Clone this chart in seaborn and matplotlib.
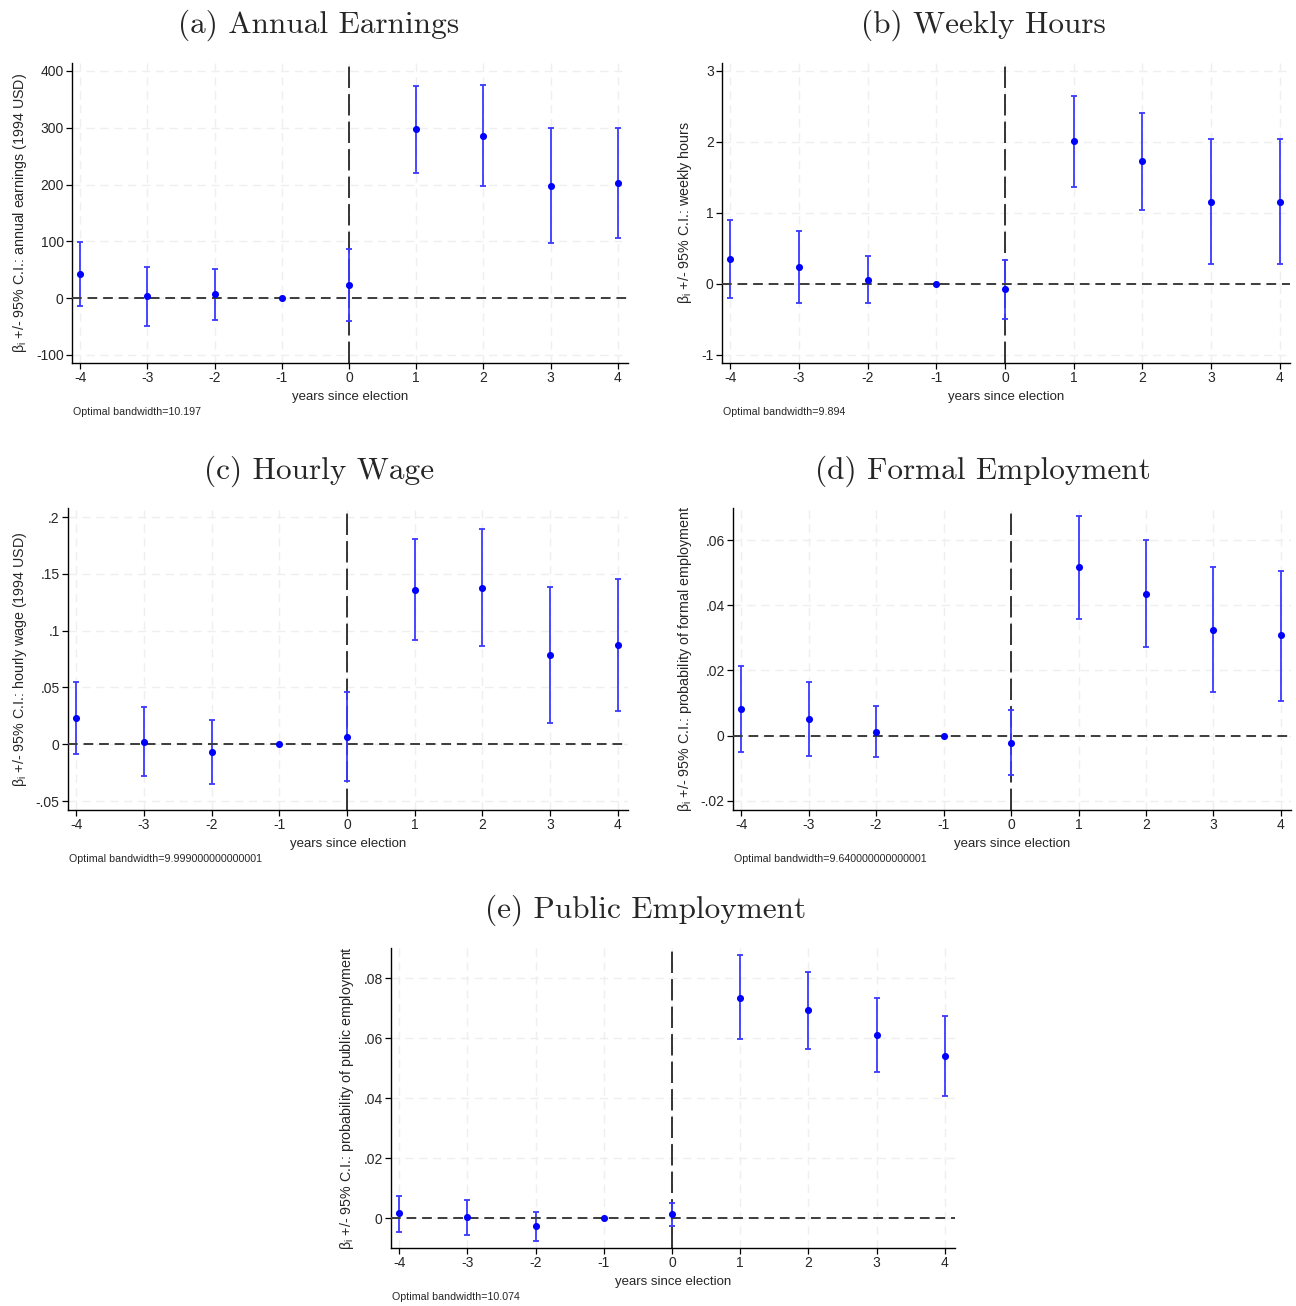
import numpy as np
import pandas as pd
import matplotlib
matplotlib.use("Agg")
import matplotlib.pyplot as plt
import seaborn as sns

# Event-study coefficients and 95% confidence bounds (reference year -1 has no interval)
years = [-4, -3, -2, -1, 0, 1, 2, 3, 4]

earn_beta = [43.4, 3.0, 7.0, 0.0, 23.0, 297.0, 286.0, 198.0, 202.5]
earn_lo = [-13.0, -49.0, -37.6, np.nan, -40.5, 220.0, 197.0, 97.0, 106.0]
earn_hi = [99.0, 55.0, 52.0, np.nan, 87.0, 374.0, 375.0, 299.0, 299.0]

hours_beta = [0.352, 0.244, 0.061, 0.0, -0.075, 2.009, 1.728, 1.155, 1.160]
hours_lo = [-0.197, -0.263, -0.268, np.nan, -0.493, 1.371, 1.047, 0.277, 0.277]
hours_hi = [0.897, 0.751, 0.399, np.nan, 0.343, 2.648, 2.413, 2.038, 2.047]

wage_beta = [0.0228, 0.0023, -0.0070, 0.0, 0.0067, 0.1361, 0.1376, 0.0785, 0.0872]
wage_lo = [-0.0085, -0.0281, -0.0348, np.nan, -0.0328, 0.0919, 0.0864, 0.0184, 0.0296]
wage_hi = [0.0544, 0.0325, 0.0211, np.nan, 0.0463, 0.1806, 0.1891, 0.1385, 0.1452]

formal_beta = [0.0082, 0.0051, 0.0012, 0.0, -0.0023, 0.0516, 0.0436, 0.0325, 0.0308]
formal_lo = [-0.0049, -0.0063, -0.0064, np.nan, -0.0121, 0.0357, 0.0273, 0.0134, 0.0108]
formal_hi = [0.0214, 0.0166, 0.0090, np.nan, 0.0079, 0.0674, 0.0599, 0.0518, 0.0506]

public_beta = [0.00156, 0.00022, -0.0027, 0.0, 0.0012, 0.0735, 0.0692, 0.0611, 0.0541]
public_lo = [-0.00456, -0.0057, -0.0075, np.nan, -0.0027, 0.0598, 0.0565, 0.0487, 0.0408]
public_hi = [0.00745, 0.0061, 0.0020, np.nan, 0.0051, 0.0876, 0.0821, 0.0734, 0.0674]

titles = ["(a) Annual Earnings", "(b) Weekly Hours", "(c) Hourly Wage",
          "(d) Formal Employment", "(e) Public Employment"]
ylabels = ["annual earnings (1994 USD)", "weekly hours", "hourly wage (1994 USD)",
           "probability of formal employment", "probability of public employment"]
bandwidths = ["10.197", "9.894", "9.999000000000001", "9.640000000000001", "10.074"]

yticks = [
    ([-100, 0, 100, 200, 300, 400], ["-100", "0", "100", "200", "300", "400"]),
    ([-1, 0, 1, 2, 3], ["-1", "0", "1", "2", "3"]),
    ([-0.05, 0, 0.05, 0.1, 0.15, 0.2], ["-.05", "0", ".05", ".1", ".15", ".2"]),
    ([-0.02, 0, 0.02, 0.04, 0.06], ["-.02", "0", ".02", ".04", ".06"]),
    ([0, 0.02, 0.04, 0.06, 0.08], ["0", ".02", ".04", ".06", ".08"]),
]

series = [
    (earn_beta, earn_lo, earn_hi),
    (hours_beta, hours_lo, hours_hi),
    (wage_beta, wage_lo, wage_hi),
    (formal_beta, formal_lo, formal_hi),
    (public_beta, public_lo, public_hi),
]

ylims = [(-114, 414), (-1.113, 3.113), (-0.0579, 0.2079), (-0.02276, 0.0698), (-0.01, 0.09)]

# axes rectangles [left, bottom, width, height] in figure fractions
rects = [
    [0.0556, 0.7221, 0.4290, 0.2297],
    [0.5571, 0.7221, 0.4383, 0.2297],
    [0.0525, 0.3798, 0.4321, 0.2312],
    [0.5656, 0.3798, 0.4306, 0.2312],
    [0.3017, 0.0444, 0.4352, 0.2297],
]
title_pos = [(319, 25), (983, 25), (319, 471), (983, 471), (646, 910)]

sns.set_style("white")
plt.rcParams["font.family"] = ["Liberation Sans", "DejaVu Sans"]
plt.rcParams["mathtext.fontset"] = "custom"
plt.rcParams["mathtext.rm"] = "Liberation Sans"
plt.rcParams["mathtext.it"] = "Liberation Sans"

W, H = 1296, 1306
fig = plt.figure(figsize=(W / 100, H / 100), dpi=100)

blue = "#0000ff"
ci_blue = "#3a3aff"

for i in range(5):
    beta, lo, hi = series[i]
    df = pd.DataFrame({"year": years, "beta": beta, "lo": lo, "hi": hi})
    ax = fig.add_axes(rects[i])

    ax.set_xlim(-4.12, 4.15)
    ax.set_ylim(*ylims[i])
    ticks, labels = yticks[i]
    ax.set_yticks(ticks)
    ax.set_yticklabels(labels)
    ax.set_xticks(years)
    ax.set_xticklabels([str(y) for y in years])

    ax.grid(True, color="#efefef", linestyle=(0, (6, 4)), linewidth=1.0, zorder=0)
    ax.set_axisbelow(True)

    ax.axvline(0, color="black", linewidth=1.1, linestyle=(0, (14, 4)), zorder=1)

    ci = df.dropna()
    ax.errorbar(ci["year"], ci["beta"],
                yerr=[ci["beta"] - ci["lo"], ci["hi"] - ci["beta"]],
                fmt="none", ecolor=ci_blue, elinewidth=1.3, capsize=2.2,
                capthick=1.3, zorder=2)

    ax.axhline(0, color="#3c3c3c", linewidth=1.4, linestyle=(0, (5, 3)), zorder=3)

    sns.scatterplot(data=df, x="year", y="beta", ax=ax, color=blue, s=26,
                    edgecolor=blue, linewidth=0, zorder=4)

    for side in ["top", "right"]:
        ax.spines[side].set_visible(False)
    for side in ["left", "bottom"]:
        ax.spines[side].set_color("black")
        ax.spines[side].set_linewidth(1.0)

    ax.tick_params(axis="both", direction="out", length=4, width=0.9,
                   color="black", labelsize=10, pad=2,
                   left=True, bottom=True)

    ax.set_xlabel("years since election", fontsize=9.5, labelpad=4)
    ax.set_ylabel(r"$\beta_{\rm i}$ +/- 95% C.I.: " + ylabels[i], fontsize=10.3, labelpad=5)

    # bandwidth note under the axis label
    ax.annotate("Optimal bandwidth=" + bandwidths[i], xy=(0, 0), xycoords="axes fraction",
                xytext=(0.5, -35), textcoords="offset points", fontsize=7.7,
                ha="left", va="center")

    tx, ty = title_pos[i]
    fig.text(tx / W, 1 - ty / H, titles[i], ha="center", va="center",
             fontsize=22.5, family="cmr10")

fig.savefig("out.png", dpi=100)
